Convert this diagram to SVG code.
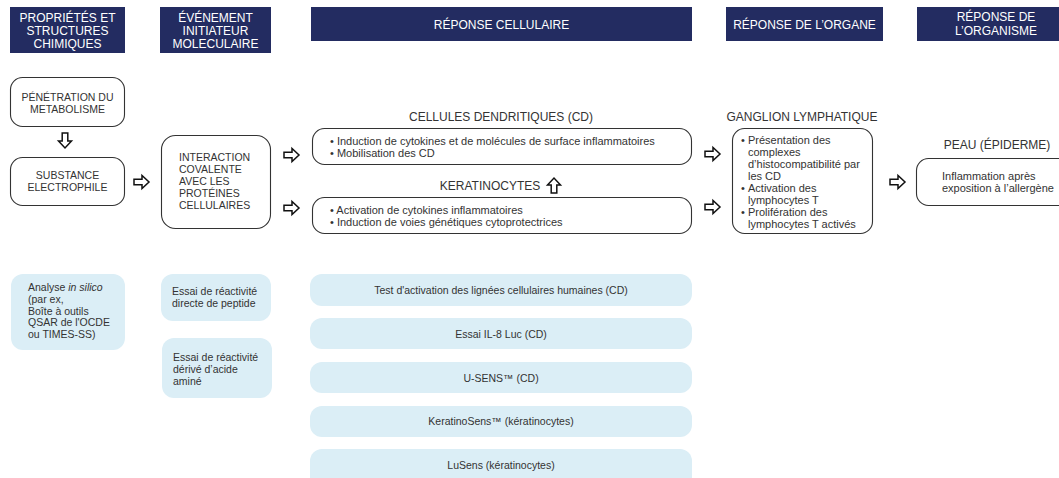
<svg xmlns="http://www.w3.org/2000/svg" width="1059" height="478" viewBox="0 0 1059 478">
<style>
text{font-family:"Liberation Sans",Arial,sans-serif;fill:#333}
.hd{fill:#232c61}
.ht{fill:#fff;font-size:12px;text-anchor:middle}
.nd{fill:#fff;stroke:#333;stroke-width:1.1}
.lb{fill:#dbeef6}
.up{font-size:10.5px}
.bd{font-size:11px}
.sm{font-size:10.5px}
.ttl{font-size:12px;text-anchor:middle}
.c{text-anchor:middle}
.ar{fill:#fff;stroke:#111;stroke-width:1.5;stroke-linejoin:miter}
</style>
<defs>
<path id="ra" d="M0,-2.8 H8 V-6.5 L15,0 L8,6.5 V2.8 H0 Z"/>
</defs>
<rect width="1059" height="478" fill="#fff"/>

<g id="headers">
<rect class="hd" x="10" y="7" width="115" height="46"/>
<text class="ht" x="67.5" y="22">PROPRIÉTÉS ET</text>
<text class="ht" x="67.5" y="35">STRUCTURES</text>
<text class="ht" x="67.5" y="48">CHIMIQUES</text>
<rect class="hd" x="160" y="7" width="111" height="46"/>
<text class="ht" x="215.5" y="22">ÉVÉNEMENT</text>
<text class="ht" x="215.5" y="35">INITIATEUR</text>
<text class="ht" x="215.5" y="48">MOLECULAIRE</text>
<rect class="hd" x="311" y="7" width="381" height="34"/>
<text class="ht" x="501.5" y="28.5">RÉPONSE CELLULAIRE</text>
<rect class="hd" x="726" y="7" width="157" height="34"/>
<text class="ht" x="804.5" y="28.5">RÉPONSE DE L’ORGANE</text>
<rect class="hd" x="917" y="7" width="158" height="34"/>
<text class="ht" x="996" y="21">RÉPONSE DE</text>
<text class="ht" x="996" y="34.5">L’ORGANISME</text>
</g>

<g id="node-penetration">
<rect class="nd" x="10.5" y="77.5" width="114" height="49" rx="12"/>
<text class="up c" x="67.5" y="101">PÉNÉTRATION DU</text>
<text class="up c" x="67.5" y="113">METABOLISME</text>
</g>

<g id="node-substance">
<rect class="nd" x="10.5" y="157.5" width="114" height="48" rx="12"/>
<text class="up c" x="67.5" y="179">SUBSTANCE</text>
<text class="up c" x="67.5" y="191">ELECTROPHILE</text>
</g>

<g id="node-interaction">
<rect class="nd" x="161.5" y="135.5" width="109" height="93" rx="14"/>
<text class="up" x="179" y="161">INTERACTION</text>
<text class="up" x="179" y="173">COVALENTE</text>
<text class="up" x="179" y="185">AVEC LES</text>
<text class="up" x="179" y="197">PROTÉINES</text>
<text class="up" x="179" y="209">CELLULAIRES</text>
</g>

<g id="node-cd">
<text class="ttl" x="501" y="121">CELLULES DENDRITIQUES (CD)</text>
<rect class="nd" x="312.5" y="128.5" width="379" height="36" rx="12"/>
<text class="bd" x="330" y="145">• Induction de cytokines et de molécules de surface inflammatoires</text>
<text class="bd" x="330" y="157">• Mobilisation des CD</text>
</g>

<g id="node-keratinocytes">
<text class="ttl" x="490" y="190">KERATINOCYTES</text>
<rect class="nd" x="312.5" y="197.5" width="379" height="36" rx="12"/>
<text class="bd" x="330" y="214">• Activation de cytokines inflammatoires</text>
<text class="bd" x="330" y="226">• Induction de voies génétiques cytoprotectrices</text>
</g>

<g id="node-ganglion">
<text class="ttl" x="802" y="121">GANGLION LYMPHATIQUE</text>
<rect class="nd" x="732.5" y="128.5" width="140" height="105" rx="12"/>
<g class="bd">
<text class="bd" x="741" y="144">•</text>
<text class="bd" x="748" y="144">Présentation des</text>
<text class="bd" x="748" y="156">complexes</text>
<text class="bd" x="748" y="168">d’histocompatibilité par</text>
<text class="bd" x="748" y="180">les CD</text>
<text class="bd" x="741" y="192">•</text>
<text class="bd" x="748" y="192">Activation des</text>
<text class="bd" x="748" y="204">lymphocytes T</text>
<text class="bd" x="741" y="216">•</text>
<text class="bd" x="748" y="216">Prolifération des</text>
<text class="bd" x="748" y="228">lymphocytes T activés</text>
</g>
</g>

<g id="node-peau">
<text class="ttl" x="997" y="149">PEAU (ÉPIDERME)</text>
<rect class="nd" x="916.5" y="158.5" width="160" height="47" rx="12"/>
<text class="bd" x="942" y="180">Inflammation après</text>
<text class="bd" x="942" y="192">exposition à l’allergène</text>
</g>

<g id="node-insilico">
<rect class="lb" x="11" y="274" width="114" height="76" rx="12"/>
<text class="sm" x="28" y="291">Analyse <tspan font-style="italic">in silico</tspan></text>
<text class="sm" x="28" y="302.75">(par ex,</text>
<text class="sm" x="28" y="314.5">Boîte à outils</text>
<text class="sm" x="28" y="326.25">QSAR de l'OCDE</text>
<text class="sm" x="28" y="338">ou TIMES-SS)</text>
</g>

<g id="node-peptide">
<rect class="lb" x="161" y="274" width="110" height="47" rx="12"/>
<text class="sm" x="172" y="295">Essai de réactivité</text>
<text class="sm" x="172" y="307">directe de peptide</text>
</g>

<g id="node-acide">
<rect class="lb" x="162" y="338" width="110" height="60" rx="12"/>
<text class="sm" x="173" y="361">Essai de réactivité</text>
<text class="sm" x="173" y="373">dérivé d’acide</text>
<text class="sm" x="173" y="385">aminé</text>
</g>

<g id="node-test-lignees">
<rect class="lb" x="310" y="274" width="382" height="32" rx="12"/>
<text class="sm c" x="501" y="294">Test d'activation des lignées cellulaires humaines (CD)</text>
</g>
<g id="node-il8">
<rect class="lb" x="310" y="318" width="382" height="31" rx="12"/>
<text class="sm c" x="501" y="338">Essai IL-8 Luc (CD)</text>
</g>
<g id="node-usens">
<rect class="lb" x="310" y="362" width="382" height="31" rx="12"/>
<text class="sm c" x="501" y="382">U-SENS™ (CD)</text>
</g>
<g id="node-keratinosens">
<rect class="lb" x="310" y="406" width="382" height="31" rx="12"/>
<text class="sm c" x="501" y="425">KeratinoSens™ (kératinocytes)</text>
</g>
<g id="node-lusens">
<rect class="lb" x="310" y="449" width="382" height="40" rx="12"/>
<text class="sm c" x="501" y="469">LuSens (kératinocytes)</text>
</g>

<g id="connectors">
<use href="#ra" class="ar" transform="translate(65,133) rotate(90)"/>
<use href="#ra" class="ar" transform="translate(134,182)"/>
<use href="#ra" class="ar" transform="translate(284,155)"/>
<use href="#ra" class="ar" transform="translate(284,208)"/>
<use href="#ra" class="ar" transform="translate(705,154)"/>
<use href="#ra" class="ar" transform="translate(705,207)"/>
<use href="#ra" class="ar" transform="translate(890,182)"/>
<use href="#ra" class="ar" transform="translate(554,193) rotate(-90)"/>
</g>
</svg>
